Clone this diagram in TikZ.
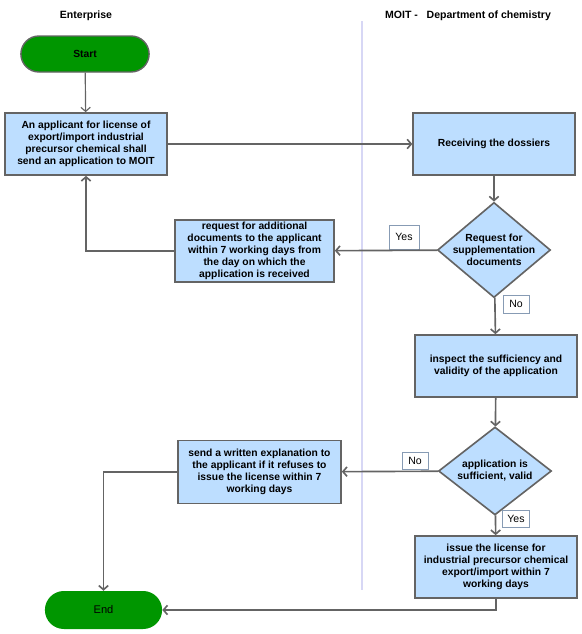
\documentclass[tikz,border=0pt]{standalone}
\usepackage{fontspec}
\setmainfont{Liberation Sans}
\usetikzlibrary{shapes.geometric,shapes.misc,arrows.meta}
\definecolor{boxblue}{RGB}{189,222,255}
\definecolor{edgegray}{RGB}{100,100,100}
\definecolor{termgreen}{RGB}{0,150,0}
\definecolor{lanecol}{RGB}{215,215,245}
\definecolor{tagcol}{RGB}{135,155,180}

\begin{document}
\begin{tikzpicture}[x=0.03cm,y=-0.03cm,
  proc/.style={rectangle,draw=edgegray,fill=boxblue,line width=1.4pt,minimum width=4.85cm,minimum height=1.86cm,align=center,inner sep=1pt,font=\fontsize{8.8}{10.2}\selectfont\bfseries},
  dec/.style={diamond,draw=edgegray,fill=boxblue,line width=1.4pt,minimum width=3.39cm,minimum height=2.64cm,inner sep=-4pt,align=center,font=\fontsize{8.8}{10.2}\selectfont\bfseries},
  term/.style={rounded rectangle,fill=termgreen,minimum width=4.08cm,minimum height=1.08cm,font=\fontsize{9.5}{11}\selectfont},
  tag/.style={rectangle,draw=tagcol,fill=white,line width=0.6pt,inner sep=0pt,font=\fontsize{9}{10}\selectfont},
  lane/.style={font=\fontsize{9}{11}\selectfont\bfseries},
  arr/.style={draw=edgegray,line width=1.4pt,-{Straight Barb[length=3.5pt,width=8pt]}}
]
  \useasboundingbox (0,0) rectangle (582,634);
  % swimlane headings
  \node[lane] (hent) at (86,16) {Enterprise};
  \node[lane] (hmoit) at (468,16) {MOIT -\ \ \ Department of chemistry};
  \coordinate (ltop) at (362,21);
  \coordinate (lbot) at (362,590);
  \draw[lanecol,line width=1pt] (ltop) -- (lbot);
  % nodes
  \node[term,draw=edgegray,line width=1.2pt,font=\fontsize{8.8}{10.2}\selectfont\bfseries] (start) at (85,54) {Start};
  \node[proc] (app) at (86,144) {An applicant for license of\\export/import industrial\\precursor chemical shall\\send an application to MOIT};
  \node[proc] (recv) at (494,144) {Receiving the dossiers};
  \node[dec] (supp) at (494,250) {Request for\\supplementation\\documents};
  \node[proc,minimum width=4.77cm] (req) at (254.5,251) {request for additional\\documents to the applicant\\within 7 working days from\\the day on which the\\application is received};
  \node[proc] (insp) at (496,366) {inspect the sufficiency and\\validity of the application};
  \node[dec] (valid) at (495,471) {application is\\sufficient, valid};
  \node[proc,minimum width=4.89cm,minimum height=1.89cm] (expl) at (259.5,472) {send a written explanation to\\the applicant if it refuses to\\issue the license within 7\\working days};
  \node[proc] (issue) at (496,567) {issue the license for\\industrial precursor chemical\\export/import within 7\\working days};
  \node[term,minimum width=3.75cm,minimum height=1.14cm] (end) at (103.5,610) {End};
  % branch labels
  \node[tag,minimum width=0.9cm,minimum height=0.72cm] (yes1) at (404,237) {Yes};
  \node[tag,minimum width=0.78cm,minimum height=0.54cm] (no1) at (516,304) {No};
  \node[tag,minimum width=0.78cm,minimum height=0.51cm] (no2) at (415,461) {No};
  \node[tag,minimum width=0.81cm,minimum height=0.51cm] (yes2) at (516,519) {Yes};
  % connectors
  \draw[arr,line width=1pt] (start) -- (app);
  \draw[arr] (app) -- (recv);
  \draw[arr] (recv) -- (supp);
  \draw[arr] (supp) -- (req);
  \draw[arr] (req.west) -| (app.south);
  \draw[arr] (supp) -- (insp);
  \draw[arr] (insp) -- (valid);
  \draw[arr] (valid) -- (expl);
  \draw[arr] (expl.west) -| (end.north);
  \draw[arr] (valid) -- (issue);
  \draw[arr] (issue.south) |- (end.east);
\end{tikzpicture}
\end{document}
